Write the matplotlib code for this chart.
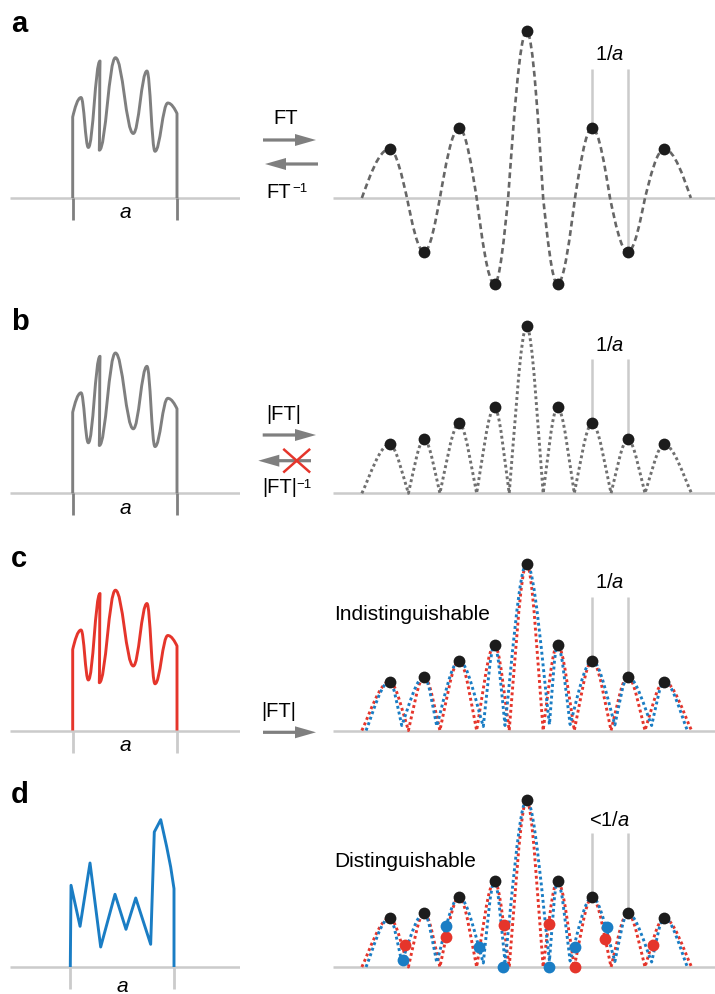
import numpy as np
import matplotlib.pyplot as plt
from matplotlib.path import Path
from matplotlib.patches import PathPatch

plt.rcParams['font.family'] = ['Liberation Sans', 'DejaVu Sans']
plt.rcParams['mathtext.fontset'] = 'custom'
plt.rcParams['mathtext.rm'] = 'Liberation Sans'
plt.rcParams['mathtext.it'] = 'Liberation Sans:italic'

# ---- data (object: position in units of a, spectrum: frequency in units of 1/a) ----
obj_x = [0, 0, 0.08, 0.15, 0.262, 0.255, 0.41, 0.581, 0.712, 0.789, 0.912, 1.0, 1.0]
obj_y = [0, 81, 100.5, 50.5, 137, 47.8, 140.3, 64.5, 127, 46.7, 95, 84.5, 0]
obj_kind = 'ccsssssssssc' + 'c'

obj2_x = [0, 0.007, 0.094, 0.19, 0.293, 0.431, 0.537, 0.631, 0.775, 0.81, 0.872, 0.93, 0.968, 1.0, 1.0]
obj2_y = [0, 81.7, 40.7, 104, 20, 72.7, 37.7, 69, 22.7, 135, 147.3, 120, 100, 78.3, 0]

peak_f = [-3.92, -2.93, -1.93, -0.92, 0.0, 0.88, 1.87, 2.89, 3.93]
peak_amp = [49, 54, 70, 86, 167, 86, 70, 54, 49]
ft_sign = [1, -1, 1, -1, 1, -1, 1, -1, 1]
ft_zero_f = [-4.71, -3.42, -2.48, -1.43, -0.53, 0.47, 1.38, 2.38, 3.38, 4.69]
mag_zero_f = [-4.71, -3.38, -2.48, -1.43, -0.50, 0.47, 1.36, 2.41, 3.38, 4.71]
blue_trough_f = [-4.59, -3.57, -2.57, -1.24, -0.62, 0.65, 1.24, 2.52, 3.57, 4.59]
blue_trough_amp = [0, 5, 4.5, 4, 5, 6, 6, 5.5, 5, 0]

red_dot_f = [-3.47, -2.31, -0.66, 0.63, 1.37, 2.24, 3.61]
red_dot_amp = [21.6, 30, 42.3, 43, 0, 28.3, 22.3]
blue_dot_f = [-3.53, -2.31, -1.35, -0.67, 0.65, 1.38, 2.30]
blue_dot_amp = [6.6, 41.3, 19.6, 0, 0, 20, 40]

marker_idx = [6, 7]
marker_text = ['1/$a$', '1/$a$', '1/$a$', '<1/$a$']
letters = ['a', 'b', 'c', 'd']

# ---- layout (pixels) ----
W, H = 715, 994
row_base = [198, 493.3, 730.5, 967]
letter_base = [32, 330, 566.7, 803]
obj_x0 = [72.7, 72.7, 72.7, 70.3]
obj_w = [104.3, 104.3, 104.3, 103.7]
spec_c, spec_u = 526.7, 35.0
mk_top = [129, 134, 134, 134]
mk_lab = [144, 148, 148, 147]

GRAY = '#7f7f7f'
LIGHT = '#cbcbcb'
RED = '#e5352b'
BLUE = '#1a7dc4'
DOT = '#1c1c1c'

fig = plt.figure(figsize=(W / 100, H / 100), dpi=100)


def px_axes(x0, x1, y0, y1, xlim, ylim):
    ax = fig.add_axes([x0 / W, 1 - y1 / H, (x1 - x0) / W, (y1 - y0) / H])
    ax.set_xlim(*xlim)
    ax.set_ylim(*ylim)
    ax.axis('off')
    return ax


def curve(xs, ys, kinds, s=0.4, c=(0.25, 0.45)):
    # cubic segments: 's' = rounded extremum, 'c' = corner / cusp
    verts = [(xs[0], ys[0])]
    codes = [Path.MOVETO]
    for i in range(len(xs) - 1):
        x0, y0, x1, y1 = xs[i], ys[i], xs[i + 1], ys[i + 1]
        dx, dy = x1 - x0, y1 - y0
        c1 = (x0 + s * dx, y0) if kinds[i] == 's' else (x0 + c[0] * dx, y0 + c[1] * dy)
        c2 = (x1 - s * dx, y1) if kinds[i + 1] == 's' else (x1 - c[0] * dx, y1 - c[1] * dy)
        verts += [c1, c2, (x1, y1)]
        codes += [Path.CURVE4] * 3
    return Path(verts, codes)


def lobes(zf, za, pf, pa):
    xs, ys, kinds = [], [], ''
    for i in range(len(pf)):
        xs += [zf[i], pf[i]]
        ys += [za[i], pa[i]]
        kinds += 'cs'
    xs.append(zf[-1])
    ys.append(za[-1])
    return xs, ys, kinds + 'c'


def draw_path(ax, path, color, lw, ls='-', z=2):
    ax.add_patch(PathPatch(path, fill=False, ec=color, lw=lw, ls=ls,
                           capstyle='butt', joinstyle='round', clip_on=False, zorder=z))


for r in range(4):
    B = row_base[r]
    # left: object
    x0, w = obj_x0[r], obj_w[r]
    axl = px_axes(10, 239.5, B - 170, B + 30, ((10 - x0) / w, (239.5 - x0) / w), (-30, 170))
    axl.axhline(0, color=LIGHT, lw=1.8, solid_capstyle='butt', zorder=1)
    col = [GRAY, GRAY, RED, BLUE][r]
    tick_col = GRAY if r < 2 else LIGHT
    axl.vlines([0, 1], -22, 0, color=tick_col, lw=2, zorder=2)
    if r < 3:
        draw_path(axl, curve(obj_x, obj_y, obj_kind), col, 2.1)
    else:
        axl.plot(obj2_x, obj2_y, color=col, lw=2.1, solid_joinstyle='round',
                 solid_capstyle='butt', clip_on=False, zorder=2)
    axl.text(0.5, -15 if r < 3 else -19, 'a', style='italic', fontsize=15,
             ha='center', va='center')

    # right: spectrum
    axr = px_axes(333, 715, B - 190, B + 100,
                  ((333 - spec_c) / spec_u, (715 - spec_c) / spec_u), (-100, 190))
    axr.axhline(0, color=LIGHT, lw=1.8, solid_capstyle='butt', zorder=1)
    zeros0 = [0] * len(mag_zero_f)
    dotted = (0, (1, 1))
    if r == 0:
        amps = [a * s for a, s in zip(peak_amp, ft_sign)]
        p = curve(*lobes(ft_zero_f, zeros0, peak_f, amps), s=0.38, c=(0.27, 0.42))
        draw_path(axr, p, '#666666', 1.9, (0, (2.2, 1.4)))
    else:
        amps = peak_amp
        p = curve(*lobes(mag_zero_f, zeros0, peak_f, amps), s=0.34, c=(0.3, 0.36))
        draw_path(axr, p, '#707070' if r == 1 else RED, 2.1, dotted, 2)
        if r > 1:
            p = curve(*lobes(blue_trough_f, blue_trough_amp, peak_f, amps), s=0.34, c=(0.3, 0.36))
            draw_path(axr, p, BLUE, 2.1, dotted, 3)
    for k in marker_idx:
        axr.vlines(peak_f[k], amps[k], mk_top[r], color=LIGHT, lw=1.8, zorder=1)
    axr.text(np.mean([peak_f[k] for k in marker_idx]), mk_lab[r], marker_text[r],
             fontsize=14.5, ha='center', va='center')
    axr.plot(peak_f, amps, 'o', color=DOT, ms=8.5, mec='none', clip_on=False, zorder=6)
    if r == 2:
        axr.text((334 - spec_c) / spec_u, 110, 'Indistinguishable', fontsize=15, va='baseline')
    if r == 3:
        axr.text((334 - spec_c) / spec_u, 100, 'Distinguishable', fontsize=15, va='baseline')
        axr.plot(red_dot_f, red_dot_amp, 'o', color=RED, ms=8.5, mec='none', clip_on=False, zorder=5)
        axr.plot(blue_dot_f, blue_dot_amp, 'o', color=BLUE, ms=8.5, mec='none', clip_on=False, zorder=5)

# ---- annotations (pixel overlay) ----
ov = px_axes(0, W, 0, H, (0, W), (H, 0))
for r in range(4):
    ov.text(11, letter_base[r], letters[r], fontsize=21, fontweight='bold', va='baseline', ha='left')

arrows = [(263, 316, 140), (318, 265, 164), (262.7, 316, 435), (311, 258.3, 460.7), (263, 316, 732.3)]
for xa, xb, ya in arrows:
    ov.arrow(xa, ya, xb - xa, 0, width=3.2, head_width=12, head_length=21,
             length_includes_head=True, fc=GRAY, ec='none')

ov.text(286, 119, 'FT', fontsize=14.5, ha='center', va='center')
ov.text(266.7, 197.5, 'FT', fontsize=14.5, ha='left', va='baseline')
ov.text(292.5, 191.5, '\u22121', fontsize=9.5, ha='left', va='baseline')
ov.text(283.3, 414, '|FT|', fontsize=14.5, ha='center', va='center')
ov.text(262.7, 493, '|FT|', fontsize=14.5, ha='left', va='baseline')
ov.text(296, 488, '\u22121', fontsize=9.5, ha='left', va='baseline')
ov.text(279, 711.5, '|FT|', fontsize=14.5, ha='center', va='center')

cx, cy = 296.7, 460.7
ov.plot([cx - 12.5, cx + 12.5], [cy - 11, cy + 11], color=RED, lw=1.8, zorder=5)
ov.plot([cx - 12.5, cx + 12.5], [cy + 11, cy - 11], color=RED, lw=1.8, zorder=5)

fig.savefig('out.png', dpi=100)
